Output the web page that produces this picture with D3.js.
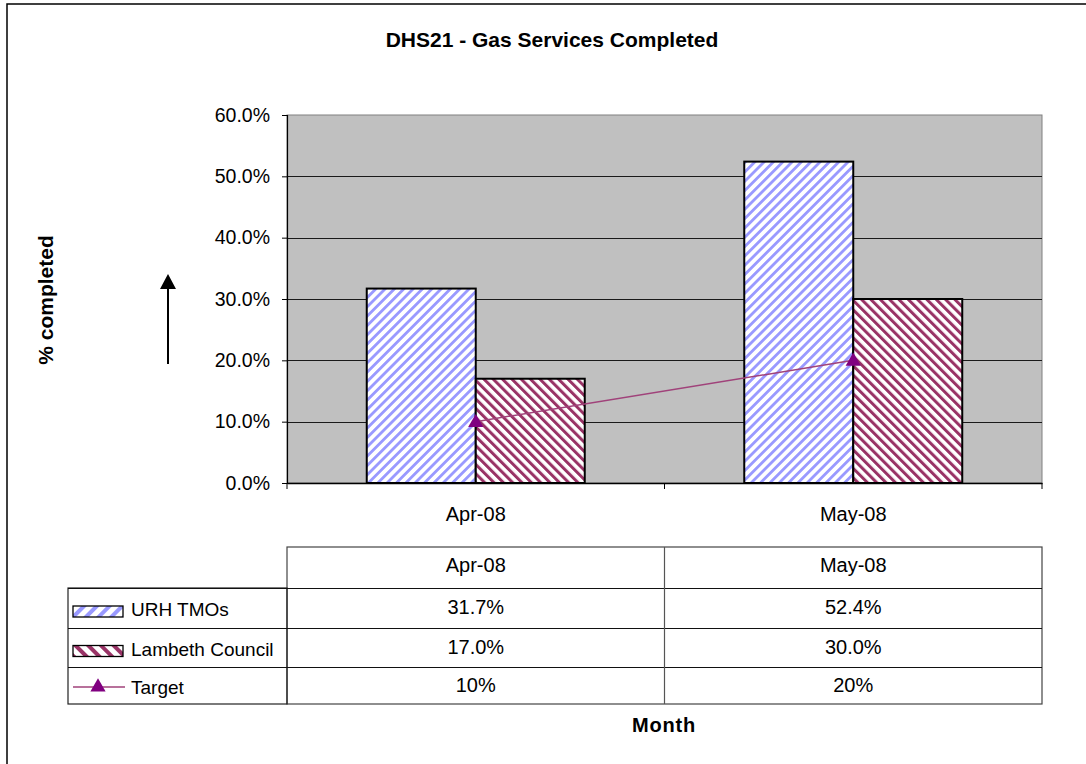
<!DOCTYPE html>
<html>
<head>
<meta charset="utf-8">
<script src="https://cdn.jsdelivr.net/npm/d3@7"></script>
<style>
body { margin: 0; background: #fff; }
svg { display: block; font-family: Arial, "Liberation Sans", sans-serif; }
</style>
</head>
<body>
<svg width="1086" height="764"></svg>
<script>
var months = ['Apr-08', 'May-08'];
var seriesNames = ['URH TMOs', 'Lambeth Council'];
var urh = [0.317, 0.524];
var lambeth = [0.170, 0.300];
var target = [0.10, 0.20];
var urhLabels = ['31.7%', '52.4%'];
var lambethLabels = ['17.0%', '30.0%'];
var targetLabels = ['10%', '20%'];
var yTicks = [0, 0.1, 0.2, 0.3, 0.4, 0.5, 0.6];

var svg = d3.select('svg');

var pLeft = 287, pRight = 1042, pTop = 115, pBottom = 483;
var fontF = 'Arial, "Liberation Sans", sans-serif';

// outer chart border (only top and left are visible in the frame)
svg.append('rect')
    .attr('x', 7).attr('y', 4)
    .attr('width', 1200).attr('height', 900)
    .attr('fill', 'none')
    .attr('stroke', '#000')
    .attr('stroke-width', 1.5);

var defs = svg.append('defs');

function stripes(id, color, angle, size, w) {
    var p = defs.append('pattern')
        .attr('id', id)
        .attr('patternUnits', 'userSpaceOnUse')
        .attr('width', size).attr('height', size)
        .attr('patternTransform', 'rotate(' + angle + ')');
    p.append('rect').attr('width', size).attr('height', size).attr('fill', '#fff');
    p.append('rect').attr('x', 0).attr('y', 0)
        .attr('width', w).attr('height', size)
        .attr('fill', color);
}
stripes('pUrh', '#9999ff', 45, 6.6, 2.8);
stripes('pLam', '#993366', -45, 6.6, 3);
stripes('pUrhKey', '#9999ff', 45, 9, 4);
stripes('pLamKey', '#993366', -45, 9, 4);

var fills = ['url(#pUrh)', 'url(#pLam)'];
var keyFills = ['url(#pUrhKey)', 'url(#pLamKey)'];

var x0 = d3.scaleBand().domain(months).range([pLeft, pRight]);
var x1 = d3.scaleBand().domain(seriesNames).range([0, x0.bandwidth()])
    .paddingInner(0).paddingOuter(0.7317);
var y = d3.scaleLinear().domain([0, 0.6]).range([pBottom, pTop]);

// plot area
svg.append('rect')
    .attr('x', pLeft).attr('y', pTop)
    .attr('width', pRight - pLeft).attr('height', pBottom - pTop)
    .attr('fill', '#c0c0c0')
    .attr('stroke', '#808080')
    .attr('stroke-width', 1);

svg.append('g')
    .selectAll('line')
    .data(yTicks.slice(1, 6))
    .enter()
    .append('line')
    .attr('x1', pLeft).attr('x2', pRight)
    .attr('y1', function(d){ return Math.round(y(d)) + 0.5; })
    .attr('y2', function(d){ return Math.round(y(d)) + 0.5; })
    .attr('stroke', '#1a1a1a')
    .attr('stroke-width', 1);

// y axis
var yAxis = svg.append('g')
    .attr('transform', 'translate(' + pLeft + ',0)')
    .call(d3.axisLeft(y).tickValues(yTicks).tickFormat(d3.format('.1%')).tickSize(5).tickPadding(12));
yAxis.select('.domain').attr('stroke', '#000').attr('stroke-width', 1.2);
yAxis.selectAll('.tick line').attr('stroke', '#000');
yAxis.selectAll('text').attr('font-size', 19.5).attr('fill', '#000')
    .attr('font-family', fontF);

// x axis
var xAxis = svg.append('g')
    .attr('transform', 'translate(0,' + pBottom + ')')
    .call(d3.axisBottom(x0).tickSize(0).tickPadding(0));
xAxis.select('.domain').attr('stroke', '#000').attr('stroke-width', 1.5);
xAxis.selectAll('text').attr('font-size', 20).attr('fill', '#000')
    .attr('font-family', fontF)
    .attr('dy', null).attr('y', 38);
svg.append('g')
    .selectAll('line')
    .data([pLeft, pLeft + x0.step(), pRight])
    .enter()
    .append('line')
    .attr('x1', function(d){ return d; })
    .attr('x2', function(d){ return d; })
    .attr('y1', pBottom).attr('y2', pBottom + 6)
    .attr('stroke', '#000');

// bars
var barData = [];
months.forEach(function(m, i){
    barData.push({m: m, s: seriesNames[0], v: urh[i], k: 0});
    barData.push({m: m, s: seriesNames[1], v: lambeth[i], k: 1});
});
svg.append('g')
    .selectAll('rect')
    .data(barData)
    .enter()
    .append('rect')
    .attr('x', function(d){ return x0(d.m) + x1(d.s); })
    .attr('y', function(d){ return y(d.v); })
    .attr('width', x1.bandwidth())
    .attr('height', function(d){ return pBottom - y(d.v); })
    .attr('fill', function(d){ return fills[d.k]; })
    .attr('stroke', '#000')
    .attr('stroke-width', 2);

// target line
var tx = function(d, i){ return x0(months[i]) + x0.bandwidth() / 2; };
svg.append('path')
    .datum(target)
    .attr('d', d3.line().x(tx).y(function(d){ return y(d); }))
    .attr('fill', 'none')
    .attr('stroke', '#a0427a')
    .attr('stroke-width', 1.5);
svg.append('g')
    .selectAll('path')
    .data(target)
    .enter()
    .append('path')
    .attr('d', d3.symbol().type(d3.symbolTriangle).size(100))
    .attr('transform', function(d, i){ return 'translate(' + tx(d, i) + ',' + (y(d) + 1) + ')'; })
    .attr('fill', '#800080');

// title and axis titles
svg.append('text')
    .attr('x', 552).attr('y', 47)
    .attr('text-anchor', 'middle')
    .attr('font-size', 21).attr('font-weight', 'bold')
    .text('DHS21 - Gas Services Completed');

svg.append('text')
    .attr('transform', 'translate(53,300) rotate(-90)')
    .attr('text-anchor', 'middle')
    .attr('font-size', 21).attr('font-weight', 'bold')
    .text('% completed');

svg.append('line')
    .attr('x1', 168).attr('x2', 168)
    .attr('y1', 364).attr('y2', 287)
    .attr('stroke', '#000').attr('stroke-width', 2);
svg.append('path')
    .attr('d', 'M168,274 L160,289 L176,289 Z')
    .attr('fill', '#000');

svg.append('text')
    .attr('x', 664).attr('y', 732)
    .attr('text-anchor', 'middle')
    .attr('font-size', 20).attr('font-weight', 'bold')
    .attr('letter-spacing', 0.8)
    .text('Month');

// data table
var rowY = [547, 588, 628, 667, 704];
var legLeft = 68;
var tbl = svg.append('g');
tbl.append('rect')
    .attr('x', pLeft).attr('y', rowY[0])
    .attr('width', pRight - pLeft).attr('height', rowY[4] - rowY[0])
    .attr('fill', 'none').attr('stroke', '#444').attr('stroke-width', 1.2);
tbl.append('rect')
    .attr('x', legLeft).attr('y', rowY[1])
    .attr('width', pLeft - legLeft).attr('height', rowY[4] - rowY[1])
    .attr('fill', 'none').attr('stroke', '#222').attr('stroke-width', 1.2);
tbl.selectAll('.hl')
    .data(rowY.slice(1, 4))
    .enter()
    .append('line')
    .attr('x1', legLeft).attr('x2', pRight)
    .attr('y1', function(d){ return d + 0.5; })
    .attr('y2', function(d){ return d + 0.5; })
    .attr('stroke', '#111').attr('stroke-width', 1.2);
tbl.append('line')
    .attr('x1', pLeft + x0.step()).attr('x2', pLeft + x0.step())
    .attr('y1', rowY[0]).attr('y2', rowY[4])
    .attr('stroke', '#555').attr('stroke-width', 1.2);

var rows = [months, urhLabels, lambethLabels, targetLabels];
rows.forEach(function(r, ri){
    tbl.selectAll('.c' + ri)
        .data(r)
        .enter()
        .append('text')
        .attr('x', function(d, i){ return x0(months[i]) + x0.bandwidth() / 2; })
        .attr('y', (rowY[ri] + rowY[ri + 1]) / 2 + (ri === 0 ? 4 : 6))
        .attr('text-anchor', 'middle')
        .attr('font-size', 20)
        .text(function(d){ return d; });
});

// legend keys in the table
var legNames = ['URH TMOs', 'Lambeth Council', 'Target'];
legNames.forEach(function(n, i){
    var cy = (rowY[i + 1] + rowY[i + 2]) / 2;
    if (i < 2) {
        tbl.append('rect')
            .attr('x', 73).attr('y', cy - 2)
            .attr('width', 50).attr('height', 11)
            .attr('fill', keyFills[i])
            .attr('stroke', '#000').attr('stroke-width', 1.3);
    } else {
        tbl.append('line')
            .attr('x1', 73).attr('x2', 125)
            .attr('y1', cy + 1.5).attr('y2', cy + 1.5)
            .attr('stroke', '#a0427a').attr('stroke-width', 1.5);
        tbl.append('path')
            .attr('d', d3.symbol().type(d3.symbolTriangle).size(100))
            .attr('transform', 'translate(98,' + (cy + 1.5) + ')')
            .attr('fill', '#800080');
    }
    tbl.append('text')
        .attr('x', 131).attr('y', cy + 8)
        .attr('font-size', 19)
        .text(n);
});
</script>
</body>
</html>
